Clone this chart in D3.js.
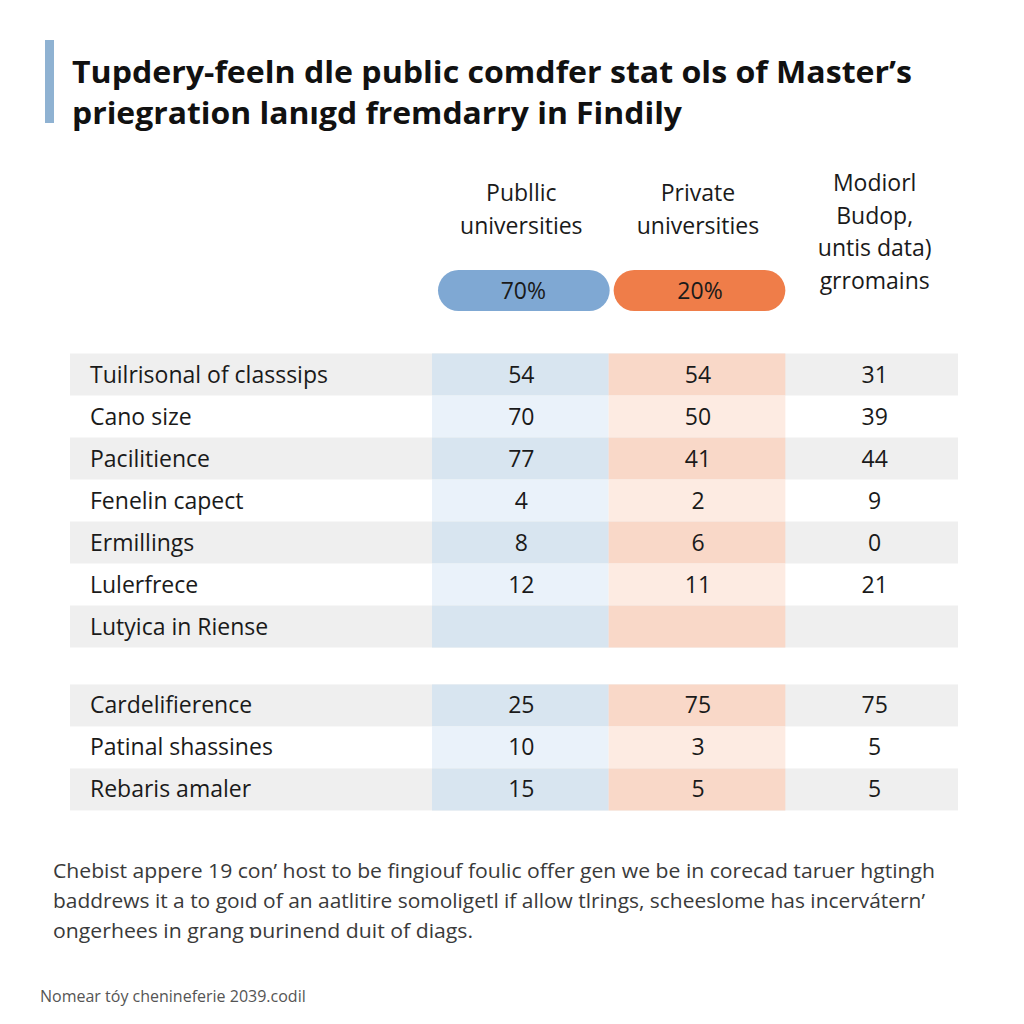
<!DOCTYPE html>
<html><head><meta charset="utf-8">
<script src="https://cdn.jsdelivr.net/npm/d3@7"></script>
<style>body{margin:0;background:#fff;} svg{display:block;}</style>
</head><body>
<script>
const titleLines = ["Tupdery-feeln dle public comdfer stat ols of Master’s", "priegration lanıgd fremdarry in Findily"];
const columns = ["Public", "Private", "Modified"];
const columnHeaders = [["Publlic", "universities"], ["Private", "universities"], ["Modiorl", "Budop,", "untis data)", "grromains"]];
const shareLabels = ["70%", "20%"];
const categories = ["Tuilrisonal of classsips", "Cano size", "Pacilitience", "Fenelin capect", "Ermillings", "Lulerfrece", "Lutyica in Riense", "Cardelifierence", "Patinal shassines", "Rebaris amaler"];
const groups = [0, 0, 0, 0, 0, 0, 0, 1, 1, 1];
const publicValues = [54, 70, 77, 4, 8, 12, null, 25, 10, 15];
const privateValues = [54, 50, 41, 2, 6, 11, null, "75", 3, 5];
const modifiedValues = [31, 39, 44, 9, 0, 21, null, "75", 5, 5];
const footnote = ["Chebist appere 19 con’ host to be fingiouf foulic offer gen we be in corecad taruer hgtingh", "baddrews it a to goıd of an aatlitire somoligetl if allow tlrings, scheeslome has incervátern’", "ongerhees in grang ɒurinend duit of diags."];
const source = "Nomear tóy chenineferie 2039.codil";

const W = 1024, H = 1024;
const svg = d3.select("body").append("svg").attr("width", W).attr("height", H);
const font = "'Open Sans', 'Noto Sans', sans-serif";

// title
svg.append("rect").attr("x", 45).attr("y", 40).attr("width", 9).attr("height", 83).attr("fill", "#8fb2d2");
svg.selectAll("text.title").data(titleLines).join("text").attr("class", "title")
  .attr("x", 72).attr("y", (d, i) => 72 + i * 41 + 11)
  .attr("font-family", font).attr("font-weight", 700).attr("font-size", 31)
  .attr("fill", "#111")
  .attr("textLength", (d, i) => i === 0 ? 840 : 610).attr("lengthAdjust", "spacingAndGlyphs")
  .text(d => d);

// scales
const x = d3.scaleBand().domain(columns).range([432, 962]).padding(0);
const slot = categories.map((c, i) => i + groups[i] * 0.88);
const y = d3.scaleLinear().domain([0, 1]).range([353.5, 395.5]);
const rowH = y(1) - y(0);

const colBase = { Public: ["#d8e5f0", "#eaf2fa"], Private: ["#f9d8c8", "#fdebe2"], Modified: ["#efefef", "#ffffff"] };
const rows = categories.map((c, i) => ({ cat: c, i, slot: slot[i], stripe: (groups[i] === 0 ? i : i - 7) % 2 === 0, vals: [publicValues[i], privateValues[i], modifiedValues[i]] }));

const rowG = svg.append("g");
rows.forEach(r => {
  const y0 = y(r.slot);
  if (r.stripe) rowG.append("rect").attr("x", 70).attr("y", y0).attr("width", 888).attr("height", rowH).attr("fill", "#efefef");
  columns.forEach((c, j) => {
    if (c === "Modified") return;
    rowG.append("rect").attr("x", x(c)).attr("y", y0).attr("width", x.bandwidth()).attr("height", rowH)
      .attr("fill", colBase[c][r.stripe ? 0 : 1]);
  });
  rowG.append("text").attr("x", 90).attr("y", y0 + rowH / 2 + 8)
    .attr("font-family", font).attr("font-size", 23).attr("fill", "#1a1a1a").text(r.cat);
  columns.forEach((c, j) => {
    const v = r.vals[j];
    if (v === null) return;
    rowG.append("text").attr("x", x(c) + x.bandwidth() / 2 + 1).attr("y", y0 + rowH / 2 + 8)
      .attr("text-anchor", "middle").attr("font-family", font).attr("font-size", 23).attr("fill", "#1a1a1a").text(v);
  });
});

// headers
const headerTop = { Public: 193, Private: 193, Modified: 183 };
columnHeaders.forEach((lines, j) => {
  const c = columns[j];
  svg.append("g").selectAll("text").data(lines).join("text")
    .attr("x", x(c) + x.bandwidth() / 2 + 1).attr("y", (d, i) => headerTop[c] + i * 32.5 + 8)
    .attr("text-anchor", "middle").attr("font-family", font).attr("font-size", 23).attr("fill", "#1a1a1a")
    .text(d => d);
});

// pills
const pillColors = ["#7fa8d3", "#ef7d49"];
shareLabels.forEach((s, j) => {
  const c = columns[j];
  svg.append("rect").attr("x", x(c) + 6 - j * 1).attr("y", 270).attr("width", x.bandwidth() - 5).attr("height", 41)
    .attr("rx", 20.5).attr("fill", pillColors[j]);
  svg.append("text").attr("x", x(c) + x.bandwidth() / 2 + 3).attr("y", 299)
    .attr("text-anchor", "middle").attr("font-family", font).attr("font-size", 23).attr("fill", "#1a1a1a").text(s);
});

// footnote
svg.selectAll("text.foot").data(footnote).join("text").attr("class", "foot")
  .attr("x", 53).attr("y", (d, i) => 878 + i * 30)
  .attr("font-family", font).attr("font-size", 20).attr("fill", "#3a3a3a")
  .attr("textLength", (d, i) => [882, 872, 420][i]).attr("lengthAdjust", "spacingAndGlyphs")
  .text(d => d);

svg.append("text").attr("x", 40).attr("y", 1002).attr("font-family", font).attr("font-size", 16).attr("fill", "#555").text(source);
</script>
</body></html>
